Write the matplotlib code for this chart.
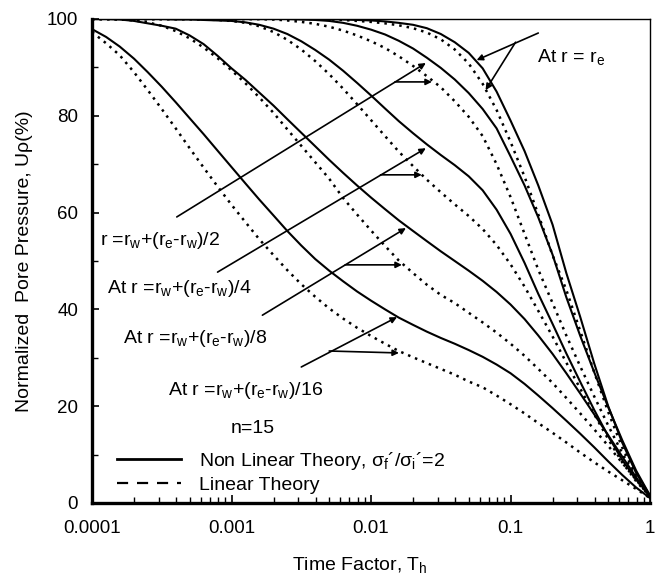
import matplotlib
matplotlib.use("Agg")
import matplotlib.pyplot as plt
from matplotlib.lines import Line2D

plt.rcParams['font.family'] = ['Liberation Sans', 'DejaVu Sans']
plt.rcParams['mathtext.fontset'] = 'custom'
plt.rcParams['mathtext.rm'] = 'Liberation Sans'
plt.rcParams['mathtext.it'] = 'Liberation Sans:italic'

# time factor values, 0.1 decade apart
T_h = [0.0001, 0.000126, 0.000158, 0.0002, 0.000251, 0.000316, 0.000398, 0.000501,
       0.000631, 0.000794, 0.001, 0.00126, 0.00158, 0.002, 0.00251, 0.00316,
       0.00398, 0.00501, 0.00631, 0.00794, 0.01, 0.0126, 0.0158, 0.02, 0.0251,
       0.0316, 0.0398, 0.0501, 0.0631, 0.0794, 0.1, 0.126, 0.158, 0.2, 0.251,
       0.316, 0.398, 0.501, 0.631, 0.794, 1.0]

# normalized pore pressure (%), non linear theory (solid lines)
nl_16 = [97.9, 96.3, 94.3, 91.8, 89.0, 86.0, 82.8, 79.5, 76.2, 72.8, 69.4, 66.0, 62.7,
         59.4, 56.2, 53.2, 50.4, 48.0, 45.8, 43.7, 41.8, 40.0, 38.3, 36.8, 35.4, 34.1,
         32.9, 31.6, 30.2, 28.6, 26.8, 24.6, 22.2, 19.6, 17.0, 14.3, 11.5, 8.6, 5.8,
         3.2, 1.0]
nl_8 = [100, 100, 99.9, 99.6, 99.1, 98.6, 98.0, 96.6, 94.8, 92.4, 89.8, 87.4, 84.8,
        82.1, 79.3, 76.5, 73.7, 70.9, 68.2, 65.6, 63.1, 60.7, 58.4, 56.2, 54.1, 52.0,
        50.0, 48.0, 45.9, 43.6, 41.0, 38.0, 34.6, 30.8, 26.8, 22.6, 18.3, 14.0, 9.6,
        5.3, 1.2]
nl_4 = [100, 100, 100, 100, 100, 100, 99.9, 99.9, 99.8, 99.7, 99.6, 99.3, 98.8, 98.0,
        96.9, 95.4, 93.6, 91.6, 89.3, 86.8, 84.2, 81.5, 78.9, 76.4, 74.1, 71.9, 69.8,
        67.5, 64.6, 60.6, 55.6, 49.6, 43.2, 37.0, 30.9, 25.0, 19.2, 13.8, 8.9, 4.8, 1.5]
nl_2 = [100, 100, 100, 100, 100, 100, 100, 100, 100, 100, 100, 100, 100, 100, 100,
        99.9, 99.8, 99.6, 99.2, 98.6, 97.8, 96.8, 95.5, 93.9, 92.0, 89.9, 87.5, 84.7,
        81.4, 77.4, 71.6, 65.6, 59.0, 51.3, 42.5, 34.5, 27.0, 19.8, 13.0, 6.7, 1.5]
nl_e = [100, 100, 100, 100, 100, 100, 100, 100, 100, 100, 100, 100, 100, 100, 100,
        100, 100, 100, 99.9, 99.8, 99.7, 99.5, 99.2, 98.8, 98.1, 96.9, 95.2, 93.0,
        89.8, 85.0, 79.0, 72.7, 65.6, 57.5, 47.5, 38.4, 28.8, 20.0, 12.5, 6.2, 1.5]

# linear theory (dotted lines)
lin_16 = [97.3, 95.0, 92.5, 89.0, 85.3, 81.4, 77.4, 73.3, 69.3, 65.4, 61.6, 58.0, 54.5,
          51.2, 48.1, 45.2, 42.6, 40.2, 38.1, 36.2, 34.5, 32.9, 31.4, 30.1, 28.9, 27.7,
          26.5, 25.1, 23.9, 22.2, 20.4, 18.5, 16.5, 14.5, 12.5, 10.4, 8.4, 6.5, 4.7,
          2.9, 1.0]
lin_8 = [100, 100, 99.9, 99.7, 99.3, 98.6, 97.5, 96.0, 94.1, 91.9, 89.4, 86.7, 83.8,
         80.6, 77.2, 73.8, 70.4, 67.0, 63.0, 59.6, 56.3, 53.1, 50.1, 47.5, 45.1, 43.0,
         41.3, 39.3, 37.3, 35.2, 32.9, 30.4, 27.7, 24.8, 21.7, 18.5, 15.2, 11.8, 8.3,
         4.8, 1.2]
lin_4 = [100, 100, 100, 100, 100, 100, 100, 100, 99.9, 99.8, 99.6, 99.2, 98.5, 97.3,
         95.7, 93.7, 91.3, 88.6, 85.6, 82.4, 79.1, 75.8, 72.6, 69.6, 66.8, 64.2, 61.7,
         59.3, 56.6, 53.3, 49.3, 44.7, 39.7, 34.4, 29.0, 23.6, 18.3, 13.2, 8.4, 4.5, 1.3]
lin_2 = [100, 100, 100, 100, 100, 100, 100, 100, 100, 100, 100, 100, 100, 99.9, 99.7,
         99.4, 99.0, 98.4, 97.6, 96.6, 95.4, 94.0, 92.3, 90.3, 88.2, 85.9, 83.0, 79.8,
         75.8, 70.0, 63.2, 55.6, 48.2, 41.3, 34.6, 28.2, 22.0, 16.0, 10.3, 5.2, 1.2]
lin_e = [100, 100, 100, 100, 100, 100, 100, 100, 100, 100, 100, 100, 100, 100, 100,
         100, 100, 99.9, 99.8, 99.6, 99.4, 99.1, 98.7, 98.1, 97.2, 95.8, 93.7, 90.8,
         86.6, 81.2, 74.6, 67.4, 59.6, 51.2, 44.0, 35.5, 27.0, 18.8, 11.5, 5.6, 1.2]

fig = plt.figure(figsize=(6.55, 5.79), dpi=100)
ax = fig.add_axes([0.1405, 0.1313, 0.852, 0.8359])

dot = (0, (1.0, 2.0))
for nl, lin in [(nl_16, lin_16), (nl_8, lin_8), (nl_4, lin_4), (nl_2, lin_2), (nl_e, lin_e)]:
    ax.plot(T_h, nl, color='black', lw=1.5)
    ax.plot(T_h, lin, color='black', lw=1.8, linestyle=dot)

ax.set_xscale('log')
ax.set_xlim(0.0001, 1)
ax.set_ylim(0, 100)
ax.set_xticks([0.0001, 0.001, 0.01, 0.1, 1])
ax.set_xticklabels(['0.0001', '0.001', '0.01', '0.1', '1'])
ax.set_yticks([0, 20, 40, 60, 80, 100])
ax.set_yticks([10, 30, 50, 70, 90], minor=True)
ax.tick_params(which='both', direction='in', labelsize=13.5, color='black')
ax.tick_params(axis='x', which='major', length=6, width=1.2, pad=12)
ax.tick_params(axis='x', which='minor', length=4, width=1.0)
ax.tick_params(axis='y', which='major', length=5, width=1.2, pad=10)
ax.tick_params(axis='y', which='minor', length=4, width=1.0)

ax.spines['left'].set_linewidth(2.4)
ax.spines['bottom'].set_linewidth(2.4)
ax.spines['top'].set_linewidth(1.0)
ax.spines['right'].set_linewidth(1.0)

ax.set_xlabel('Time Factor, T$_\\mathrm{h}$', fontsize=14, va='top')
ax.xaxis.set_label_coords(0.48, -0.107)
ax.set_ylabel('Normalized  Pore Pressure, Uρ(%)', fontsize=14)
ax.yaxis.set_label_coords(-0.106, 0.5)

# curve labels
tkw = dict(transform=ax.transAxes, fontsize=14, va='baseline', ha='left')
ax.text(0.7975, 0.911, 'At r = r$_\\mathrm{e}$', **tkw)
ax.text(0.0143, 0.533, 'r =r$_\\mathrm{w}$+(r$_\\mathrm{e}$-r$_\\mathrm{w}$)/2', **tkw)
ax.text(0.0269, 0.434, 'At r =r$_\\mathrm{w}$+(r$_\\mathrm{e}$-r$_\\mathrm{w}$)/4', **tkw)
ax.text(0.0556, 0.3306, 'At r =r$_\\mathrm{w}$+(r$_\\mathrm{e}$-r$_\\mathrm{w}$)/8', **tkw)
ax.text(0.136, 0.2231, 'At r =r$_\\mathrm{w}$+(r$_\\mathrm{e}$-r$_\\mathrm{w}$)/16', **tkw)
ax.text(0.2885, 0.1446, 'n=15', transform=ax.transAxes, fontsize=14, va='baseline', ha='center')

# leader lines and arrows (data coords: tail near label, tip on a curve)
akw = dict(arrowstyle='-|>', color='black', lw=1.2, mutation_scale=9, shrinkA=0, shrinkB=0)
arrows = [
    ((0.158, 97.1), (0.0571, 91.5)),
    ((0.1086, 95.2), (0.0662, 85.3)),
    ((0.000405, 59.1), (0.0247, 90.9)),
    ((0.01483, 87.0), (0.0273, 87.0)),
    ((0.000794, 47.7), (0.0247, 73.3)),
    ((0.0117, 67.8), (0.0231, 67.8)),
    ((0.001664, 38.8), (0.01778, 56.8)),
    ((0.00652, 49.2), (0.01664, 49.2)),
    ((0.003162, 28.1), (0.01535, 38.4)),
    ((0.005012, 31.4), (0.01585, 31.0)),
]
for tail, tip in arrows:
    ax.annotate('', xy=tip, xytext=tail, arrowprops=akw)

handles = [Line2D([], [], color='black', lw=2.0),
           Line2D([], [], color='black', lw=1.6, linestyle=(0, (5, 4)))]
ax.legend(handles, ['Non Linear Theory, σ$_\\mathrm{f}$´/σ$_\\mathrm{i}$´=2', 'Linear Theory'],
          loc='lower left', bbox_to_anchor=(0.045, 0.018), frameon=False, fontsize=14,
          handlelength=3.3, handletextpad=0.9, labelspacing=0.25, borderpad=0,
          borderaxespad=0)

fig.savefig('out.png', dpi=100)
